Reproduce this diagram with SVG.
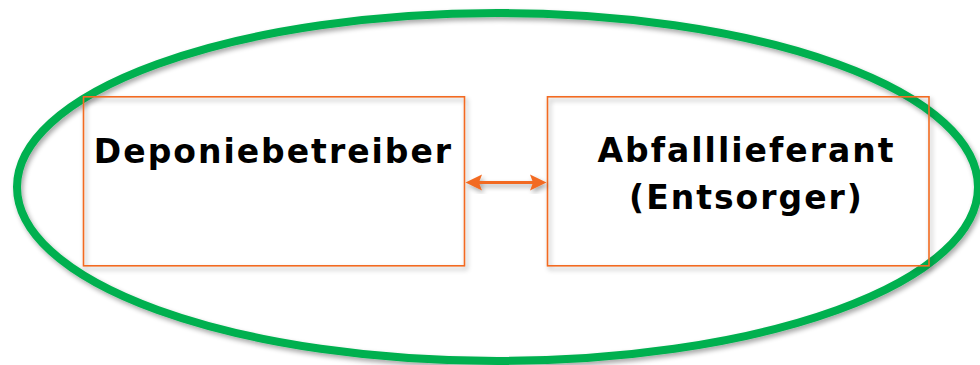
<svg xmlns="http://www.w3.org/2000/svg" width="980" height="365" viewBox="0 0 980 365">
  <style>
    .box { fill: none; stroke: #F26B21; stroke-width: 1.6; }
    .lbl { font-family: "DejaVu Sans", Verdana, sans-serif; font-weight: bold; font-size: 33px; letter-spacing: 2px; fill: #000; text-anchor: middle; }
  </style>
  <defs>
    <filter id="shadow" x="-10%" y="-10%" width="120%" height="130%">
      <feGaussianBlur in="SourceAlpha" stdDeviation="2.5"/>
      <feOffset dx="2" dy="3" result="b"/>
      <feComponentTransfer><feFuncA type="linear" slope="0.35"/></feComponentTransfer>
      <feMerge><feMergeNode/><feMergeNode in="SourceGraphic"/></feMerge>
    </filter>
  </defs>
  <rect width="980" height="365" fill="#fff"/>
  <g id="boundary" filter="url(#shadow)">
    <ellipse cx="497.5" cy="187" rx="480.5" ry="174" fill="none" stroke="#00B050" stroke-width="8"/>
  </g>
  <g id="deponiebetreiber">
    <rect class="box" x="83.5" y="96.8" width="381" height="169" filter="url(#shadow)"/>
    <text class="lbl" x="273.5" y="162.5">Deponiebetreiber</text>
  </g>
  <g id="abfalllieferant">
    <rect class="box" x="547.5" y="96.8" width="381.5" height="169" filter="url(#shadow)"/>
    <text class="lbl" x="746.5" y="162">Abfalllieferant</text>
    <text class="lbl" x="746.5" y="208.5">(Entsorger)</text>
  </g>
  <g id="connectors" filter="url(#shadow)">
    <line x1="478" y1="182.5" x2="534" y2="182.5" stroke="#F26B21" stroke-width="3.2"/>
    <path d="M465.5,182.5 L482,174.5 L479,182.5 L482,190.5 Z" fill="#F26B21"/>
    <path d="M546.5,182.5 L530,174.5 L533,182.5 L530,190.5 Z" fill="#F26B21"/>
  </g>
</svg>
